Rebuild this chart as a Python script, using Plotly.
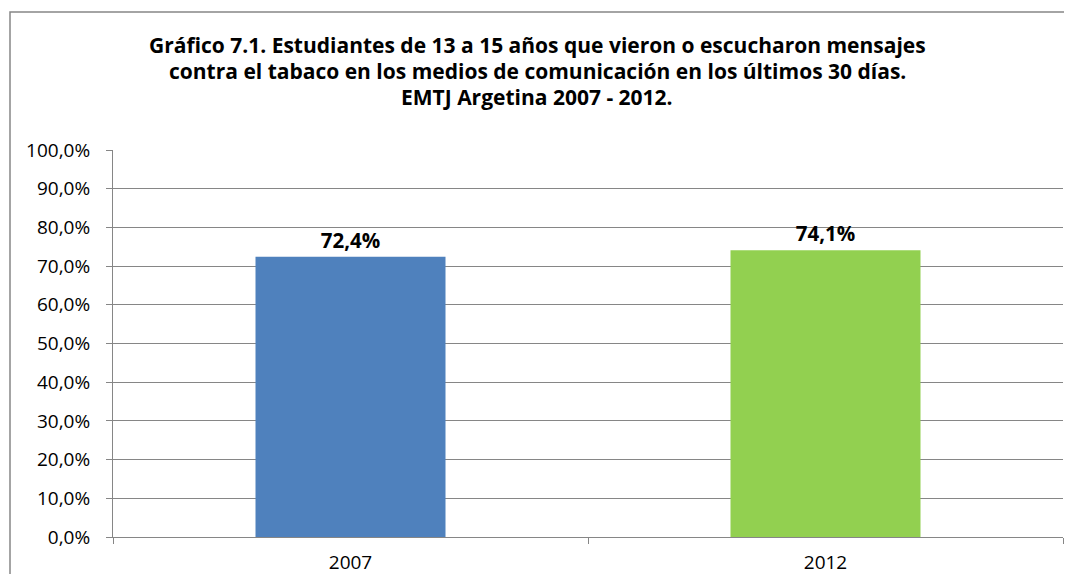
import plotly.graph_objects as go

years = ["2007", "2012"]
values = [72.4, 74.1]
colors = ["#4F81BD", "#92D050"]
labels = ["72,4%", "74,1%"]
title_lines = [
    "Gráfico 7.1. Estudiantes de 13 a 15 años que vieron o escucharon mensajes",
    "contra el tabaco en los medios de comunicación en los últimos 30 días.",
    "EMTJ Argetina 2007 - 2012.",
]

FONT = "Open Sans"
OFF = 8  # page body margin offset

W, H = 1056, 566
# plot area in screen px
SX0, SX1, SY0, SY1 = 113, 1063, 150, 537
L = SX0 - OFF
R = W - (SX1 - OFF)
T = SY0 - OFF
B = H - (SY1 - OFF)
pw, ph = W - L - R, H - T - B


def px_to_paper_x(sx):
    return (sx - OFF - L) / pw


def px_to_paper_y(sy):
    return (H - B - (sy - OFF)) / ph


fig = go.Figure()
fig.add_trace(go.Bar(
    x=years, y=values, marker=dict(color=colors, line=dict(width=0)),
    width=0.4, text=labels, textposition="outside", cliponaxis=False,
    textfont=dict(family=FONT, size=20.5, color="black", weight="bold"),
))

annotations = []
for i, (line, sy) in enumerate(zip(title_lines, [45, 71, 97])):
    annotations.append(dict(
        text=line, xref="paper", yref="paper",
        x=px_to_paper_x(537), y=px_to_paper_y(sy),
        xanchor="center", yanchor="middle", showarrow=False,
        font=dict(family=FONT, size=21, color="black", weight="bold"),
    ))

frame_x = [px_to_paper_x(10), px_to_paper_x(10), px_to_paper_x(1090)]
frame_y = [px_to_paper_y(600), px_to_paper_y(12), px_to_paper_y(12)]
path = "M {} {} L {} {} L {} {}".format(
    frame_x[0], frame_y[0], frame_x[1], frame_y[1], frame_x[2], frame_y[2])

fig.update_layout(
    width=W, height=H,
    margin=dict(l=L, r=R, t=T, b=B, autoexpand=False),
    paper_bgcolor="white", plot_bgcolor="white",
    separators=",.",
    showlegend=False,
    font=dict(family=FONT, color="black"),
    annotations=annotations,
    xaxis=dict(
        type="category", tickson="boundaries", ticks="outside", ticklen=6,
        tickcolor="#868686", showline=True, linecolor="#868686", linewidth=1,
        showgrid=False, tickfont=dict(size=19, family=FONT),
        ticklabelstandoff=8,
    ),
    yaxis=dict(
        range=[0, 100], dtick=10, tickformat=".1f", ticksuffix="%",
        ticks="outside", ticklen=6, tickcolor="#868686",
        showline=True, linecolor="#868686", linewidth=1,
        showgrid=True, gridcolor="#868686", gridwidth=1,
        tickfont=dict(size=19, family=FONT), zeroline=False,
        ticklabelstandoff=12,
    ),
    shapes=[dict(
        type="path", xref="paper", yref="paper", path=path,
        line=dict(color="#868686", width=1.5), layer="below",
    )],
)

fig.write_html("out.html")
